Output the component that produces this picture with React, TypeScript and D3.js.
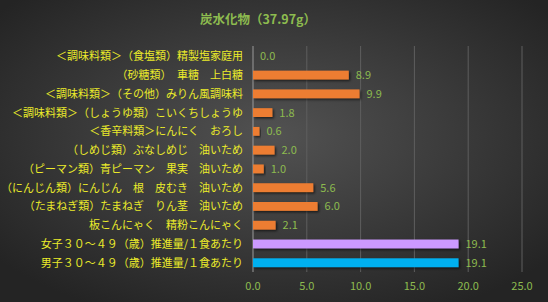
import React from 'react';
import * as d3 from 'd3';

const categories: string[] = [
  '＜調味料類＞（食塩類）精製塩家庭用',
  '（砂糖類）　車糖　上白糖',
  '＜調味料類＞（その他）みりん風調味料',
  '＜調味料類＞（しょうゆ類）こいくちしょうゆ',
  '＜香辛料類＞にんにく　おろし',
  '（しめじ類）ぶなしめじ　油いため',
  '（ピーマン類）青ピーマン　果実　油いため',
  '（にんじん類）にんじん　根　皮むき　油いため',
  '（たまねぎ類）たまねぎ　りん茎　油いため',
  '板こんにゃく　精粉こんにゃく',
  '女子３０～４９（歳）推進量/１食あたり',
  '男子３０～４９（歳）推進量/１食あたり',
];
const values: number[] = [0.0, 8.9, 9.9, 1.8, 0.6, 2.0, 1.0, 5.6, 6.0, 2.1, 19.1, 19.1];
const barColors: string[] = [
  '#ED7D31', '#ED7D31', '#ED7D31', '#ED7D31', '#ED7D31',
  '#ED7D31', '#ED7D31', '#ED7D31', '#ED7D31', '#ED7D31',
  '#CC99FF', '#00B0F0',
];
const xTicks: number[] = [0, 5, 10, 15, 20, 25];
const title = '炭水化物（37.97g）';

const W = 548;
const H = 302;

const App: React.FC = () => {
  const x = d3.scaleLinear().domain([0, 25]).range([253, 522]);
  const y = d3.scaleBand<string>().domain(categories).range([47, 272]).paddingInner(0.53).paddingOuter(0.26);
  const fmt = d3.format('.1f');
  const font = '"Noto Sans CJK JP", "Noto Sans", sans-serif';

  return (
    <svg width={W} height={H} style={{ position: 'absolute', left: 0, top: 0, display: 'block' }}>
      <defs>
        <radialGradient id="bg" cx="50%" cy="45%" r="65%">
          <stop offset="0%" stopColor="#525252" />
          <stop offset="100%" stopColor="#242424" />
        </radialGradient>
        <filter id="shadow" x="-10%" y="-30%" width="130%" height="180%">
          <feDropShadow dx="1.5" dy="1.5" stdDeviation="0.8" floodColor="#000" floodOpacity="0.6" />
        </filter>
      </defs>
      <rect width={W} height={H} fill="url(#bg)" />

      <text x={258} y={24} textAnchor="middle" fill="#8DBB4F" fontSize={12.5} fontWeight="bold" fontFamily={font}>
        {title}
      </text>

      {xTicks.map((t) => (
        <g key={t}>
          <line
            x1={x(t)} x2={x(t)} y1={46} y2={272}
            stroke={t === 0 ? '#9a9a9a' : '#5e5e5e'} strokeWidth={1}
          />
          <text x={x(t)} y={290} textAnchor="middle" fill="#8DBB4F" fontSize={11} fontFamily={font}>
            {fmt(t)}
          </text>
        </g>
      ))}

      {categories.map((c, i) => {
        const yc = (y(c) ?? 0) + y.bandwidth() / 2;
        return (
          <g key={c}>
            <text x={243} y={yc} dy="0.36em" textAnchor="end" fill="#EBEB2A" fontSize={11} fontFamily={font}>
              {c}
            </text>
            <rect
              x={x(0)} y={y(c)} width={Math.max(0, x(values[i]) - x(0))} height={y.bandwidth()}
              fill={barColors[i]} filter="url(#shadow)"
            />
            <text x={x(values[i]) + 7} y={yc} dy="0.36em" fill="#8DBB4F" fontSize={11} fontFamily={font}>
              {fmt(values[i])}
            </text>
          </g>
        );
      })}
    </svg>
  );
};

export default App;
